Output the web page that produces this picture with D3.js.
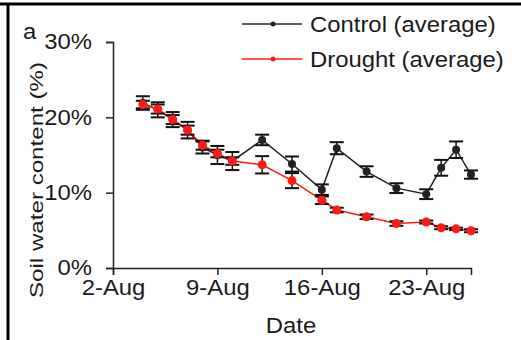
<!DOCTYPE html>
<html>
<head>
<meta charset="utf-8">
<script src="https://cdn.jsdelivr.net/npm/d3@7"></script>
<style>
body { margin: 0; background: #fff; }
text { font-family: "Liberation Sans", Arial, sans-serif; fill: #1a1a1a; }
</style>
</head>
<body>
<div id="vis"></div>
<script>
// measurement days in August
var days = [4, 5, 6, 7, 8, 9, 10, 12, 14, 16, 17, 19, 21, 23, 24, 25, 26];
var controlMean = [21.9, 21.0, 19.7, 18.3, 16.0, 15.0, 14.2, 17.0, 13.8, 10.4, 15.9, 12.8, 10.6, 9.8, 13.3, 15.7, 12.4];
var controlErr  = [0.9, 1.0, 1.0, 1.1, 0.8, 1.2, 1.2, 0.7, 1.0, 0.7, 0.8, 0.7, 0.65, 0.65, 1.05, 1.1, 0.55];
var droughtMean = [21.7, 21.1, 19.7, 18.3, 16.3, 15.2, 14.2, 13.7, 11.6, 9.0, 7.7, 6.8, 5.9, 6.1, 5.35, 5.2, 4.95];
var droughtErr  = [0.5, 0.6, 0.6, 0.6, 0.6, 0.5, 0.5, 1.15, 1.0, 0.5, 0.3, 0.3, 0.3, 0.2, 0.2, 0.15, 0.2];
var xTickDays = [2, 9, 16, 23];
var yTicks = [0, 10, 20, 30];

var width = 521, height = 340;
var year = 2013;
var fontSize = 21.5;
var stretch = 1.11;   // the source text is a bit wider than Liberation Sans
function day(d) { return new Date(year, 7, d); }

// widen text horizontally by a factor, keeps anchors working
function widen(sel, f) {
    sel.each(function() {
        var w = this.getComputedTextLength();
        d3.select(this)
            .attr("textLength", w * f)
            .attr("lengthAdjust", "spacingAndGlyphs");
    });
}

var svg = d3.select("#vis").append("svg")
    .attr("width", width)
    .attr("height", height);

// frame on top and left
svg.append("line").attr("x1", 0).attr("x2", width).attr("y1", 4).attr("y2", 4)
    .attr("stroke", "#000").attr("stroke-width", 3);
svg.append("line").attr("x1", 8).attr("x2", 8).attr("y1", 3).attr("y2", height)
    .attr("stroke", "#000").attr("stroke-width", 3);

var x = d3.scaleTime()
    .domain([day(2), day(26)])
    .range([113, 471]);

var y = d3.scaleLinear()
    .domain([0, 30])
    .range([268, 42]);

var xAxis = svg.append("g")
    .attr("transform", "translate(0,268)")
    .call(d3.axisBottom(x)
        .tickValues(xTickDays.map(day))
        .tickFormat(d3.timeFormat("%-d-%b"))
        .tickSizeOuter(0)
        .tickSize(7)
        .tickPadding(5));

var yAxis = svg.append("g")
    .attr("transform", "translate(113,0)")
    .call(d3.axisLeft(y)
        .tickValues(yTicks)
        .tickFormat(function(d){ return d + "%"; })
        .tickSizeOuter(0)
        .tickSize(7)
        .tickPadding(14));

[xAxis, yAxis].forEach(function(g) {
    g.select(".domain").attr("stroke", "#222").attr("stroke-width", 1.5);
    g.selectAll(".tick line").attr("stroke", "#222").attr("stroke-width", 1.5);
    g.selectAll(".tick text").style("font-size", fontSize + "px").attr("fill", "#1a1a1a");
    widen(g.selectAll(".tick text"), stretch);
});

svg.append("text")
    .attr("x", 291).attr("y", 333)
    .attr("text-anchor", "middle")
    .style("font-size", fontSize + "px")
    .text("Date")
    .call(widen, stretch);

svg.append("text")
    .attr("transform", "translate(43,180) rotate(-90)")
    .attr("text-anchor", "middle")
    .style("font-size", "18px")
    .attr("textLength", 236)
    .attr("lengthAdjust", "spacingAndGlyphs")
    .text("Soil water content (%)");

svg.append("text")
    .attr("x", 23).attr("y", 39)
    .style("font-size", fontSize + "px")
    .text("a")
    .call(widen, stretch);

function makeSeries(mean, err) {
    return days.map(function(d, i){ return {date: day(d), v: mean[i], e: err[i]}; });
}

var series = [
    {name: "Control (average)", data: makeSeries(controlMean, controlErr), color: "#222", r: 4},
    {name: "Drought (average)", data: makeSeries(droughtMean, droughtErr), color: "#ff1a1a", r: 4.5}
];

var line = d3.line()
    .x(function(d){ return x(d.date); })
    .y(function(d){ return y(d.v); });

series.forEach(function(s) {
    var g = svg.append("g");
    g.append("path")
        .datum(s.data)
        .attr("fill", "none")
        .attr("stroke", s.color)
        .attr("stroke-width", 1.5)
        .attr("d", line);

    var bars = g.selectAll(".err")
        .data(s.data)
        .enter().append("g");
    bars.append("line")
        .attr("x1", function(d){ return x(d.date); })
        .attr("x2", function(d){ return x(d.date); })
        .attr("y1", function(d){ return y(d.v - d.e); })
        .attr("y2", function(d){ return y(d.v + d.e); })
        .attr("stroke", "#111").attr("stroke-width", 1.5);
    [-1, 1].forEach(function(sgn) {
        bars.append("line")
            .attr("x1", function(d){ return x(d.date) - 7; })
            .attr("x2", function(d){ return x(d.date) + 7; })
            .attr("y1", function(d){ return y(d.v + sgn * d.e); })
            .attr("y2", function(d){ return y(d.v + sgn * d.e); })
            .attr("stroke", "#111").attr("stroke-width", 2);
    });

    g.selectAll(".dot")
        .data(s.data)
        .enter().append("circle")
        .attr("cx", function(d){ return x(d.date); })
        .attr("cy", function(d){ return y(d.v); })
        .attr("r", s.r)
        .attr("fill", s.color);
});

// legend
var legend = svg.append("g");
series.forEach(function(s, i) {
    var ly = 24 + i * 35;
    legend.append("line")
        .attr("x1", 242).attr("x2", 302)
        .attr("y1", ly).attr("y2", ly)
        .attr("stroke", s.color).attr("stroke-width", 1.5);
    legend.append("circle")
        .attr("cx", 273).attr("cy", ly).attr("r", 2.5)
        .attr("fill", s.color);
    legend.append("text")
        .attr("x", 310).attr("y", ly + 7.5)
        .style("font-size", fontSize + "px")
        .text(s.name)
        .call(widen, stretch);
});
</script>
</body>
</html>
